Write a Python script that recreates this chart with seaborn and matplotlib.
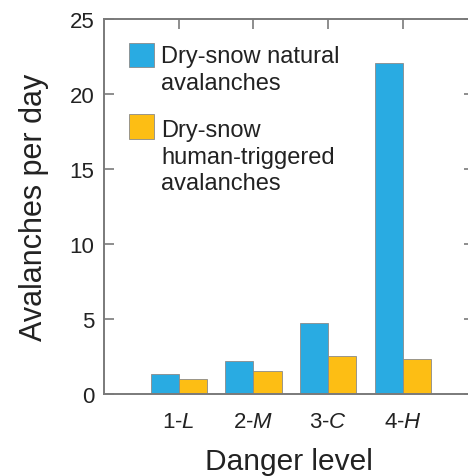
import pandas as pd
import matplotlib
matplotlib.use("Agg")
import matplotlib.pyplot as plt
import matplotlib.patches as mpatches
from matplotlib.legend_handler import HandlerPatch
import seaborn as sns

# values
levels = ["1-L", "2-M", "3-C", "4-H"]
tick_labels = ["1-$\\mathit{L}$", "2-$\\mathit{M}$", "3-$\\mathit{C}$", "4-$\\mathit{H}$"]
natural = [1.35, 2.2, 4.7, 22.1]
human = [1.0, 1.55, 2.55, 2.3]
series = ["Dry-snow natural\navalanches", "Dry-snow\nhuman-triggered\navalanches"]

df = pd.DataFrame({
    "level": levels * 2,
    "value": natural + human,
    "type": [series[0]] * 4 + [series[1]] * 4,
})

sns.set_theme(style="ticks")
plt.rcParams["font.family"] = ["Liberation Sans", "DejaVu Sans"]
plt.rcParams["mathtext.fontset"] = "custom"
plt.rcParams["mathtext.rm"] = "Liberation Sans"
plt.rcParams["mathtext.it"] = "Liberation Sans:italic"

text_col = "#222222"
spine_col = "#7a7a7a"
edge_col = "#8a8a8a"
line_sp = 1.28

fig = plt.figure(figsize=(4.68, 4.77), dpi=100)
ax = fig.add_axes([0.2222, 0.172, 0.7906, 0.786])

sns.barplot(data=df, x="level", y="value", hue="type", order=levels,
            palette=["#29abe2", "#fdbe14"], saturation=1, width=0.75, gap=0,
            edgecolor=edge_col, linewidth=0.6, ax=ax)

ax.set_xlim(-1, 3.95)
ax.set_ylim(0, 25)
ax.set_yticks([0, 5, 10, 15, 20, 25])
ax.set_xticks(range(4))
ax.set_xticklabels(tick_labels)

for s in ax.spines.values():
    s.set_color(spine_col)
    s.set_linewidth(1.4)

ax.tick_params(direction="in", length=7, width=1.2, color=spine_col,
               top=True, right=True, labelsize=16, labelcolor=text_col)
ax.tick_params(axis="y", pad=7)
ax.tick_params(axis="x", pad=12)

ax.set_xlabel("Danger level", fontsize=21.5, color=text_col, labelpad=11)
ax.set_ylabel("Avalanches per day", fontsize=22, color=text_col, labelpad=15)


# legend: square swatch lined up with the first line of each label
def swatch(nlines):
    def make(legend, orig_handle, xdescent, ydescent, width, height, fontsize):
        size = width
        cy = -ydescent + height / 2 + (nlines - 1) * 0.5 * line_sp * fontsize
        p = mpatches.Rectangle((-xdescent, cy - size / 2), size, size)
        return p
    return HandlerPatch(patch_func=make)


handles, labels = ax.get_legend_handles_labels()
hmap = {h: swatch(lab.count("\n") + 1) for h, lab in zip(handles, labels)}
leg = ax.legend(handles, labels, handler_map=hmap, loc="upper left",
                bbox_to_anchor=(0.0676, 0.93), frameon=False,
                fontsize=17, handlelength=1.05, handleheight=1.05,
                handletextpad=0.3, labelspacing=1.05, borderaxespad=0, borderpad=0)
for t in leg.get_texts():
    t.set_color(text_col)
    t.set_linespacing(line_sp)
for h in leg.legend_handles:
    h.set_edgecolor(edge_col)
    h.set_linewidth(0.6)

fig.savefig("out.png", dpi=100)
